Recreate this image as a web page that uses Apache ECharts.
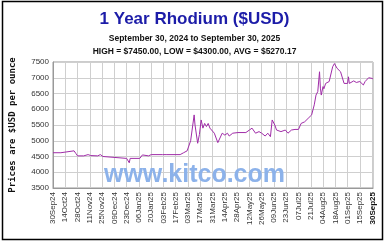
<!DOCTYPE html>
<html>
<head>
<meta charset="utf-8">
<script src="https://cdn.jsdelivr.net/npm/echarts@6/dist/echarts.min.js"></script>
<style>
  html, body { margin: 0; padding: 0; background: #fff; }
  #chart { width: 389px; height: 244px; }
</style>
</head>
<body>
<div id="chart"></div>
<script>
// days counted from 30Sep24
var tickDays = [0, 14, 28, 42, 56, 70, 84, 98, 112, 126, 140, 154, 168, 182, 196, 210, 224, 238, 252, 266, 280, 294, 308, 322, 336, 350, 365];
var tickLabels = ['30Sep24', '14Oct24', '28Oct24', '11Nov24', '25Nov24', '09Dec24', '23Dec24', '06Jan25', '20Jan25',
  '03Feb25', '17Feb25', '03Mar25', '17Mar25', '31Mar25', '14Apr25', '28Apr25', '12May25', '26May25', '09Jun25',
  '23Jun25', '07Jul25', '21Jul25', '04Aug25', '18Aug25', '01Sep25', '15Sep25', '30Sep25'];

var days = [0, 9, 11, 24, 26, 28, 35, 37, 40, 43, 51, 54, 57, 59, 84, 87, 88, 99, 102, 104, 109, 112, 125, 127, 129, 145,
  149, 153, 155, 157, 161, 162, 165, 167, 169, 171, 173, 175, 177, 179, 180, 184, 188, 190, 193, 196, 199, 201, 205,
  211, 220, 224, 227, 231, 235, 238, 242, 245, 248, 250, 253, 255, 257, 260, 265, 268, 272, 276, 280, 283, 287, 291,
  295, 296, 298, 300, 302, 304, 305, 306, 308, 309, 311, 315, 319, 321, 322, 324, 328, 330, 332, 336, 337, 338, 343,
  346, 350, 354, 356, 360, 364, 365];
var prices = [4620, 4620, 4680, 4680, 4600, 4520, 4520, 4560, 4560, 4530, 4520, 4560, 4500, 4440, 4440, 4300, 4440, 4440,
  4550, 4580, 4520, 4560, 4560, 4530, 4560, 4560, 4620, 4680, 4710, 5000, 5820, 5500, 4920, 5200, 5660, 5400, 5550,
  5450, 5550, 5400, 5450, 5240, 4940, 4920, 5240, 5180, 5240, 5150, 5240, 5260, 5260, 5340, 5400, 5240, 5290, 5240,
  5150, 5240, 5130, 5660, 5500, 5340, 5400, 5290, 5340, 5240, 5340, 5360, 5360, 5550, 5600, 5710, 5820, 5820, 6140,
  6450, 6560, 7190, 6670, 6450, 6720, 6650, 6820, 6880, 7350, 7450, 7400, 7300, 7190, 7150, 6820, 6820, 7030, 6820,
  6900, 6850, 6880, 6770, 6880, 7000, 6980, 6960];

var yTicks = [3500, 4000, 4500, 5000, 5500, 6000, 6500, 7000, 7500];

var chart = echarts.init(document.getElementById('chart'));

var seriesData = days.map(function (d, i) { return [d, prices[i]]; });

var option = {
  animation: false,
  backgroundColor: '#fff',
  title: [{
    text: '1 Year Rhodium ($USD)',
    left: 'center', top: 6,
    textStyle: { color: '#1c1ca8', fontSize: 17, fontWeight: 'bold', fontFamily: 'Liberation Sans' }
  }, {
    text: 'September 30, 2024 to September 30, 2025',
    left: 'center', top: 29,
    textStyle: { color: '#111', fontSize: 8.5, fontWeight: 'bold', fontFamily: 'Liberation Sans' }
  }, {
    text: 'HIGH = $7450.00, LOW = $4300.00, AVG = $5270.17',
    left: 'center', top: 42,
    textStyle: { color: '#111', fontSize: 8.5, fontWeight: 'bold', fontFamily: 'Liberation Sans' }
  }],
  grid: { left: 47, right: 16, top: 62, bottom: 56, show: true, borderColor: '#999', borderWidth: 1 },
  xAxis: {
    type: 'value', min: 0, max: 365,
    axisLine: { show: true, lineStyle: { color: '#999' } },
    axisTick: { show: false, customValues: tickDays },
    splitLine: { show: true, lineStyle: { color: '#cfcfcf', width: 1 } },
    axisLabel: {
      customValues: tickDays,
      rotate: 90, fontSize: 8, color: '#333', fontFamily: 'Liberation Sans', margin: 4,
      formatter: function (v) {
        var i = tickDays.indexOf(v);
        if (i < 0) return '';
        return i === tickDays.length - 1 ? '{b|' + tickLabels[i] + '}' : tickLabels[i];
      },
      rich: { b: { fontWeight: 'bold', fontSize: 8, color: '#111', fontFamily: 'Liberation Sans' } }
    }
  },
  yAxis: {
    type: 'value', min: 3500, max: 7500, interval: 500,
    name: 'Prices are $USD per ounce',
    nameLocation: 'middle', nameGap: 36,
    nameTextStyle: { fontSize: 9, fontWeight: 'bold', color: '#111', fontFamily: 'DejaVu Sans Mono' },
    axisLine: { show: true, lineStyle: { color: '#999' } },
    axisTick: { show: false },
    splitLine: { show: true, lineStyle: { color: '#cfcfcf', width: 1 } },
    axisLabel: {
      fontSize: 8, color: '#333', fontFamily: 'Liberation Sans', margin: 4,
      formatter: function (v) { return yTicks.indexOf(v) >= 0 ? String(v) : ''; }
    }
  },
  series: [{
    type: 'line',
    data: seriesData,
    symbol: 'none',
    lineStyle: { color: '#a02ca8', width: 1 },
    z: 3
  }],
  graphic: [{
    type: 'text',
    left: 'center', top: 163,
    z: 10,
    style: {
      text: 'www.kitco.com',
      fill: '#8cb2ea',
      font: 'bold 25px "Liberation Sans"'
    }
  }, {
    type: 'rect',
    shape: { x: 2.5, y: 1.5, width: 380, height: 238 },
    style: { fill: null, stroke: '#000', lineWidth: 1.5 },
    z: 20
  }]
};

chart.setOption(option);
</script>
</body>
</html>
